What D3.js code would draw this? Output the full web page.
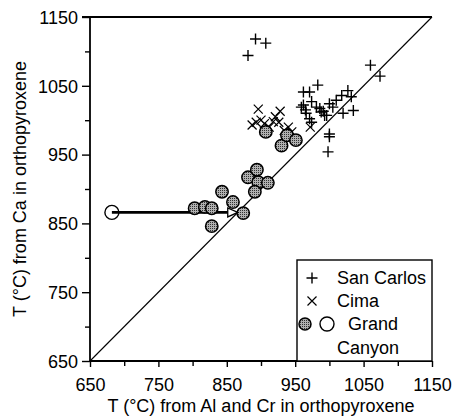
<!DOCTYPE html>
<html>
<head>
<meta charset="utf-8">
<script src="https://cdn.jsdelivr.net/npm/d3@7/dist/d3.min.js"></script>
<style>
  html, body { margin: 0; padding: 0; background: #fff; }
  svg { display: block; }
  text { font-family: "Liberation Sans", Arial, Helvetica, sans-serif; fill: #000; }
</style>
</head>
<body>
<svg id="chart" width="453" height="418"></svg>
<script>
// ---- Data ----
const majorTicks = [650, 750, 850, 950, 1050, 1150];
const minorTicks = [700, 800, 900, 1000, 1100];

const sanCarlosX = [881, 892, 907, 1060, 1074, 962, 971, 983, 959, 965, 974, 981, 986, 988, 966, 971, 974, 993, 996, 1000, 1005, 1010, 1018, 1027, 1032, 1020, 1035, 1000, 1000, 998, 991, 962];
const sanCarlosY = [1094, 1118, 1112, 1080, 1064, 1041, 1041, 1051, 1019, 1015, 1027, 1019, 1017, 1012, 1010, 1002, 997, 1007, 1007, 1024, 1019, 1029, 1036, 1043, 1034, 1010, 1014, 980, 976, 954, 1013, 1022];

const cimaX = [896, 887, 893, 900, 905, 912, 918, 921, 928, 926, 934, 940, 945, 972];
const cimaY = [1016, 993, 997, 1000, 995, 990, 998, 1005, 1013, 997, 985, 990, 983, 990];

const grandCanyonX = [803, 818, 828, 828, 843, 859, 874, 881, 894, 896, 910, 891, 907, 930, 938, 951];
const grandCanyonY = [872, 874, 872, 846, 896, 881, 865, 917, 928, 910, 909, 896, 983, 963, 978, 971];

const openCircleX = [682];
const openCircleY = [866];
const arrowEndX = [866];

const legendLabels = ["San Carlos", "Cima", "Grand", "Canyon"];

// ---- Layout ----
const svg = d3.select("#chart");
const x = d3.scaleLinear().domain([650, 1150]).range([90, 432]);
const y = d3.scaleLinear().domain([650, 1150]).range([361, 17]);
const FS = 18;

// defs: halftone pattern for filled circles
const defs = svg.append("defs");
const pat = defs.append("pattern")
  .attr("id", "dots").attr("patternUnits", "userSpaceOnUse")
  .attr("width", 2).attr("height", 2);
pat.append("rect").attr("width", 2).attr("height", 2).attr("fill", "#b0b0b0");
pat.append("rect").attr("width", 1).attr("height", 1).attr("fill", "#333");

// Axes
const xAxis = d3.axisBottom(x).tickValues(majorTicks).tickSize(6).tickFormat(d3.format("d"));
const yAxis = d3.axisLeft(y).tickValues(majorTicks).tickSize(8).tickFormat(d3.format("d"));
const xMinor = d3.axisBottom(x).tickValues(minorTicks).tickSize(5).tickFormat("");
const yMinor = d3.axisLeft(y).tickValues(minorTicks).tickSize(5).tickFormat("");

function styleAxis(g) {
  g.select(".domain").remove();
  g.selectAll(".tick line").attr("stroke", "#000").attr("stroke-width", 1.4);
  g.selectAll(".tick text").style("font-size", FS + "px").attr("fill", "#000");
}

const gx = svg.append("g").attr("transform", "translate(0,361)").call(xAxis).call(styleAxis);
gx.selectAll(".tick text").attr("dy", "1.15em");
svg.append("g").attr("transform", "translate(0,361)").call(xMinor).call(styleAxis);

const gy = svg.append("g").attr("transform", "translate(90,0)").call(yAxis).call(styleAxis);
gy.selectAll(".tick text").attr("x", -12).attr("dy", "0.35em");
svg.append("g").attr("transform", "translate(90,0)").call(yMinor).call(styleAxis);

// Frame lines
svg.append("line").attr("x1", x(650)).attr("x2", x(1150)).attr("y1", y(650)).attr("y2", y(650))
  .attr("stroke", "#000").attr("stroke-width", 2.2);
svg.append("line").attr("x1", x(650)).attr("x2", x(650)).attr("y1", y(650)).attr("y2", y(1150))
  .attr("stroke", "#000").attr("stroke-width", 1.8);
svg.append("line").attr("x1", x(650) - 8).attr("x2", x(1150)).attr("y1", y(1150)).attr("y2", y(1150))
  .attr("stroke", "#000").attr("stroke-width", 2);

// 1:1 line
svg.append("line").attr("x1", x(650)).attr("y1", y(650)).attr("x2", x(1150)).attr("y2", y(1150))
  .attr("stroke", "#000").attr("stroke-width", 1.1);

// Markers
function plus(g, cx, cy, h) {
  g.append("path").attr("d", `M${cx - h},${cy}H${cx + h}M${cx},${cy - h}V${cy + h}`)
    .attr("stroke", "#000").attr("stroke-width", 1.4).attr("fill", "none");
}
function cross(g, cx, cy, h) {
  g.append("path").attr("d", `M${cx - h},${cy - h}L${cx + h},${cy + h}M${cx - h},${cy + h}L${cx + h},${cy - h}`)
    .attr("stroke", "#000").attr("stroke-width", 1.2).attr("fill", "none");
}

const marks = svg.append("g");

// Arrow shaft (behind circles)
marks.append("line")
  .attr("x1", x(openCircleX[0])).attr("y1", y(openCircleY[0]))
  .attr("x2", x(arrowEndX[0]) - 9).attr("y2", y(openCircleY[0]))
  .attr("stroke", "#000").attr("stroke-width", 2.6);

// Cima
cimaX.forEach((v, i) => cross(marks, x(v), y(cimaY[i]), 4.5));
// San Carlos
sanCarlosX.forEach((v, i) => plus(marks, x(v), y(sanCarlosY[i]), 5.5));

// Grand Canyon filled
marks.selectAll("circle.gc").data(grandCanyonX).enter().append("circle")
  .attr("class", "gc")
  .attr("cx", d => x(d)).attr("cy", (d, i) => y(grandCanyonY[i])).attr("r", 6.2)
  .attr("fill", "url(#dots)").attr("stroke", "#000").attr("stroke-width", 1.5);

// Open circle
marks.append("circle").attr("cx", x(openCircleX[0])).attr("cy", y(openCircleY[0])).attr("r", 7)
  .attr("fill", "none").attr("stroke", "#000").attr("stroke-width", 1.4);

// Arrowhead (open triangle)
const ax = x(arrowEndX[0]), ay = y(openCircleY[0]);
marks.append("path").attr("d", `M${ax},${ay}L${ax - 10},${ay - 4.5}L${ax - 10},${ay + 4.5}Z`)
  .attr("fill", "#fff").attr("stroke", "#000").attr("stroke-width", 1.3);

// Legend
const lg = svg.append("g");
lg.append("rect").attr("x", 297).attr("y", 260).attr("width", 135).attr("height", 101)
  .attr("fill", "#fff").attr("stroke", "#000").attr("stroke-width", 1.4);
plus(lg, 312, 278, 5.5);
cross(lg, 312, 301, 4.5);
lg.append("circle").attr("cx", 305).attr("cy", 324).attr("r", 6).attr("fill", "url(#dots)")
  .attr("stroke", "#000").attr("stroke-width", 1.5);
lg.append("circle").attr("cx", 327).attr("cy", 324).attr("r", 7).attr("fill", "none")
  .attr("stroke", "#000").attr("stroke-width", 1.4);
const legPos = [[337, 278], [337, 301], [348, 324], [337, 348]];
legendLabels.forEach((t, i) => {
  lg.append("text").attr("x", legPos[i][0]).attr("y", legPos[i][1]).attr("dy", "0.35em")
    .style("font-size", FS + "px").text(t);
});

// Axis titles
svg.append("text").attr("x", 261).attr("y", 412).attr("text-anchor", "middle")
  .style("font-size", FS + "px").text("T (°C) from Al and Cr in orthopyroxene");
svg.append("text").attr("transform", "translate(26,189) rotate(-90)").attr("text-anchor", "middle")
  .style("font-size", FS + "px").text("T (°C) from Ca in orthopyroxene");
</script>
</body>
</html>
